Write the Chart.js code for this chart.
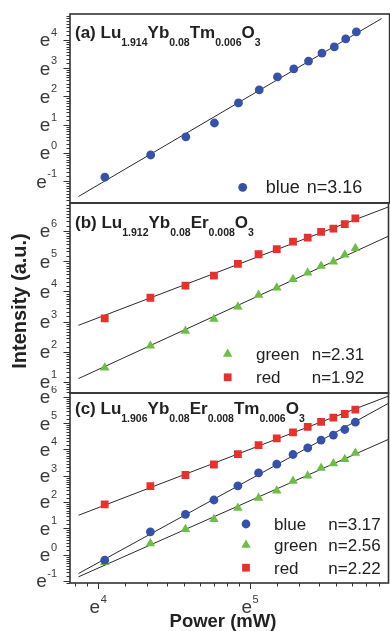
<!DOCTYPE html>
<html>
<head>
<meta charset="utf-8">
<script src="https://cdn.jsdelivr.net/npm/chart.js@4.4.0/dist/chart.umd.min.js"></script>
<style>
  body { margin: 0; background: #fff; }
  #wrap { position: relative; width: 390px; height: 631px; overflow: hidden; }
  #wrap canvas { position: absolute; left: 0; }
</style>
</head>
<body>
<div id="wrap">
  <canvas id="panelA" width="394" height="210" style="top:0"></canvas>
  <canvas id="panelB" width="394" height="204" style="top:196px"></canvas>
  <canvas id="panelC" width="394" height="245" style="top:386px"></canvas>
</div>
<script>
// pump power (mW), same steps for all three samples
const power = [57, 77, 97, 117, 137, 157, 177, 197, 217, 237, 257, 277, 297];

// ln(intensity) of each emission band
// (a) Tm sample
const blueA = [-0.85, -0.07, 0.57, 1.06, 1.77, 2.23, 2.69, 2.97, 3.25, 3.53, 3.75, 4.03, 4.28];
// (b) Er sample
const greenB = [1.47, 2.20, 2.69, 3.09, 3.49, 3.88, 4.12, 4.40, 4.62, 4.84, 4.98, 5.21, 5.43];
const redB = [3.11, 3.79, 4.19, 4.52, 4.91, 5.23, 5.40, 5.65, 5.78, 5.97, 6.08, 6.23, 6.42];
// (c) Er/Tm sample
const blueC = [-0.21, 0.87, 1.53, 2.08, 2.62, 3.11, 3.44, 3.81, 4.06, 4.36, 4.55, 4.76, 5.04];
const greenC = [-0.29, 0.43, 0.97, 1.35, 1.78, 2.16, 2.43, 2.80, 3.00, 3.30, 3.47, 3.63, 3.87];
const redC = [1.91, 2.61, 3.03, 3.43, 3.82, 4.17, 4.42, 4.65, 4.86, 5.05, 5.21, 5.35, 5.52];

// fitted slopes n (I ~ P^n)
const nBlueA = 3.16;
const nGreenB = 2.31, nRedB = 1.92;
const nBlueC = 3.17, nGreenC = 2.56, nRedC = 2.22;

// ln(P) span covered by the fit lines
const fitFrom = 3.87;
const fitToA = 5.86;
const fitToBC = 5.95;

// exponent labels e^n on the axes
const yTicksA = [-1, 0, 1, 2, 3, 4];
const yTicksB = [1, 2, 3, 4, 5, 6];
const yTicksC = [-1, 0, 1, 2, 3, 4, 5, 6];
const xTicks = [4, 5];

const BLUE = "#3651a9";
const GREEN = "#6cbf45";
const RED = "#e8312c";
const INK = "#333";
const FONT = '"Liberation Sans", Arial, Helvetica, sans-serif';

const X_MIN = 3.8143, X_MAX = 5.912;

// marker sizes
const R_CIRCLE = 4.4, R_TRI = 5.5, R_RECT = 5.5;

// minor ticks sit linearly in value between e^n and e^(n+1)
const E_MINOR = [1, 2, 3, 4, 5, 6, 7, 8].map((k) => Math.log(1 + (k * (Math.E - 1)) / 9));

function marks(vals, color, style, radius) {
  return {
    data: power.map((p, i) => ({ x: Math.log(p), y: vals[i] })),
    pointStyle: style,
    pointRadius: radius,
    pointHoverRadius: radius,
    backgroundColor: color,
    borderColor: color,
    borderWidth: 0,
    showLine: false,
  };
}

function fitLine(vals, n, to) {
  const xs = power.map((p) => Math.log(p));
  const mx = xs.reduce((a, b) => a + b, 0) / xs.length;
  const my = vals.reduce((a, b) => a + b, 0) / vals.length;
  const b = my - n * mx;
  return {
    data: [
      { x: fitFrom, y: b + n * fitFrom },
      { x: to, y: b + n * to },
    ],
    showLine: true,
    pointRadius: 0,
    borderColor: "#2b2b2b",
    borderWidth: 1,
    fill: false,
  };
}

function drawTicks(ctx, scale, horizontal, edge, majorLen, minorLen) {
  ctx.beginPath();
  for (let n = Math.floor(scale.min); n <= Math.ceil(scale.max); n++) {
    [0, ...E_MINOR].forEach((f, i) => {
      const v = n + f;
      if (v < scale.min || v > scale.max) return;
      const p = Math.round(scale.getPixelForValue(v)) + 0.5;
      const len = i === 0 ? majorLen : minorLen;
      if (horizontal) {
        ctx.moveTo(p, edge);
        ctx.lineTo(p, edge + len);
      } else {
        ctx.moveTo(edge, p);
        ctx.lineTo(edge - len, p);
      }
    });
  }
  ctx.stroke();
}

// "e" with a raised exponent; baseline is the baseline of the "e"
function expLabel(ctx, exp, x, baseline, anchor) {
  ctx.font = "19px " + FONT;
  const we = ctx.measureText("e").width;
  ctx.font = "11px " + FONT;
  const wx = ctx.measureText(String(exp)).width;
  const total = we + wx + 0.5;
  const x0 = anchor === "right" ? x - total : x - total / 2;
  ctx.textAlign = "left";
  ctx.textBaseline = "alphabetic";
  ctx.font = "19px " + FONT;
  ctx.fillText("e", x0, baseline);
  ctx.font = "11px " + FONT;
  ctx.fillText(String(exp), x0 + we + 0.5, baseline - 10.5);
}

function formula(ctx, parts, x, baseline) {
  ctx.textAlign = "left";
  ctx.textBaseline = "alphabetic";
  ctx.fillStyle = "#222";
  parts.forEach(([t, sub]) => {
    ctx.font = sub ? "bold 10.5px " + FONT : "bold 17px " + FONT;
    ctx.fillText(t, x, sub ? baseline + 8 : baseline);
    x += ctx.measureText(t).width;
  });
}

function decor(cfg) {
  return {
    id: "decor",
    afterDatasetsDraw(chart) {
      const { ctx, chartArea: area } = chart;
      const ys = chart.scales.y;
      const xs = chart.scales.x;
      ctx.save();

      // frame
      ctx.strokeStyle = INK;
      ctx.lineWidth = 1.6;
      ctx.strokeRect(area.left, area.top, area.right - area.left, area.bottom - area.top);

      // left axis ticks and labels
      ctx.lineWidth = 1;
      drawTicks(ctx, ys, false, area.left, 6.5, 3.5);
      ctx.fillStyle = "#3a3a3a";
      cfg.yTicks.forEach((n) => {
        expLabel(ctx, n, area.left - 13, ys.getPixelForValue(n) + 6.4, "right");
      });

      // bottom axis only on the last panel
      if (cfg.xAxis) {
        drawTicks(ctx, xs, true, area.bottom, 6, 3.5);
        ctx.fillStyle = "#3a3a3a";
        xTicks.forEach((n) => {
          expLabel(ctx, n, xs.getPixelForValue(n), area.bottom + 30, "center");
        });
        ctx.fillStyle = "#222";
        ctx.font = "bold 18.5px " + FONT;
        ctx.textAlign = "center";
        ctx.textBaseline = "alphabetic";
        ctx.fillText("Power (mW)", 223, area.bottom + 44);
      }

      if (cfg.yTitle) {
        ctx.save();
        ctx.translate(20, cfg.yTitle);
        ctx.rotate(-Math.PI / 2);
        ctx.fillStyle = "#222";
        ctx.font = "bold 20px " + FONT;
        ctx.textAlign = "center";
        ctx.textBaseline = "middle";
        ctx.fillText("Intensity (a.u.)", 0, 0);
        ctx.restore();
      }

      formula(ctx, cfg.title, 75, cfg.titleY);

      // legend
      cfg.legend.forEach((row) => {
        ctx.fillStyle = row.color;
        Chart.helpers.drawPoint(ctx, { pointStyle: row.style, radius: row.r, rotation: 0, borderWidth: 0 }, row.mx, row.my);
        ctx.fillStyle = "#222";
        ctx.font = cfg.legendFont + "px " + FONT;
        ctx.textAlign = "left";
        ctx.textBaseline = "alphabetic";
        ctx.fillText(row.label, cfg.nameX, row.my + 6);
        ctx.fillText("n=" + row.n.toFixed(2), cfg.nX, row.my + 6);
      });

      ctx.restore();
    },
  };
}

function makePanel(id, datasets, yMin, yMax, padding, cfg) {
  new Chart(document.getElementById(id), {
    type: "scatter",
    data: { datasets },
    options: {
      responsive: false,
      animation: false,
      devicePixelRatio: 1,
      layout: { padding },
      plugins: { legend: { display: false }, tooltip: { enabled: false } },
      scales: {
        x: { type: "linear", min: X_MIN, max: X_MAX, display: false },
        y: { type: "linear", min: yMin, max: yMax, display: false },
      },
    },
    plugins: [decor(cfg)],
  });
}

makePanel(
  "panelA",
  [marks(blueA, BLUE, "circle", R_CIRCLE), fitLine(blueA, nBlueA, fitToA)],
  -1.767, 4.912,
  { left: 70, right: 2, top: 14, bottom: 7 },
  {
    yTicks: yTicksA,
    title: [["(a) Lu"], ["1.914", 1], ["Yb"], ["0.08", 1], ["Tm"], ["0.006", 1], ["O"], ["3", 1]],
    titleY: 37.5,
    legendFont: 18,
    nameX: 265.7,
    nX: 306.7,
    legend: [{ label: "blue", n: nBlueA, color: BLUE, style: "circle", r: R_CIRCLE, mx: 242.7, my: 187.3 }],
  }
);

makePanel(
  "panelB",
  [
    marks(greenB, GREEN, "triangle", R_TRI),
    marks(redB, RED, "rect", R_RECT),
    fitLine(greenB, nGreenB, fitToBC),
    fitLine(redB, nRedB, fitToBC),
  ],
  0.636, 6.927,
  { left: 70, right: 2, top: 7, bottom: 7 },
  {
    yTicks: yTicksB,
    yTitle: 105,
    title: [["(b) Lu"], ["1.912", 1], ["Yb"], ["0.08", 1], ["Er"], ["0.008", 1], ["O"], ["3", 1]],
    titleY: 32,
    legendFont: 17,
    nameX: 256,
    nX: 311.7,
    legend: [
      { label: "green", n: nGreenB, color: GREEN, style: "triangle", r: R_TRI, mx: 227.7, my: 158 },
      { label: "red", n: nRedB, color: RED, style: "rect", r: R_RECT, mx: 227.7, my: 181.3 },
    ],
  }
);

makePanel(
  "panelC",
  [
    marks(blueC, BLUE, "circle", R_CIRCLE),
    marks(greenC, GREEN, "triangle", R_TRI),
    marks(redC, RED, "rect", R_RECT),
    fitLine(blueC, nBlueC, fitToBC),
    fitLine(greenC, nGreenC, fitToBC),
    fitLine(redC, nRedC, fitToBC),
  ],
  -1.076, 6.148,
  { left: 70, right: 2, top: 7, bottom: 48 },
  {
    yTicks: yTicksC,
    xAxis: true,
    title: [["(c) Lu"], ["1.906", 1], ["Yb"], ["0.08", 1], ["Er"], ["0.008", 1], ["Tm"], ["0.006", 1], ["O"], ["3", 1]],
    titleY: 27.5,
    legendFont: 17,
    nameX: 274,
    nX: 328.3,
    legend: [
      { label: "blue", n: nBlueC, color: BLUE, style: "circle", r: R_CIRCLE, mx: 246, my: 138 },
      { label: "green", n: nGreenC, color: GREEN, style: "triangle", r: R_TRI, mx: 246, my: 159 },
      { label: "red", n: nRedC, color: RED, style: "rect", r: R_RECT, mx: 246, my: 181.7 },
    ],
  }
);
</script>
</body>
</html>
